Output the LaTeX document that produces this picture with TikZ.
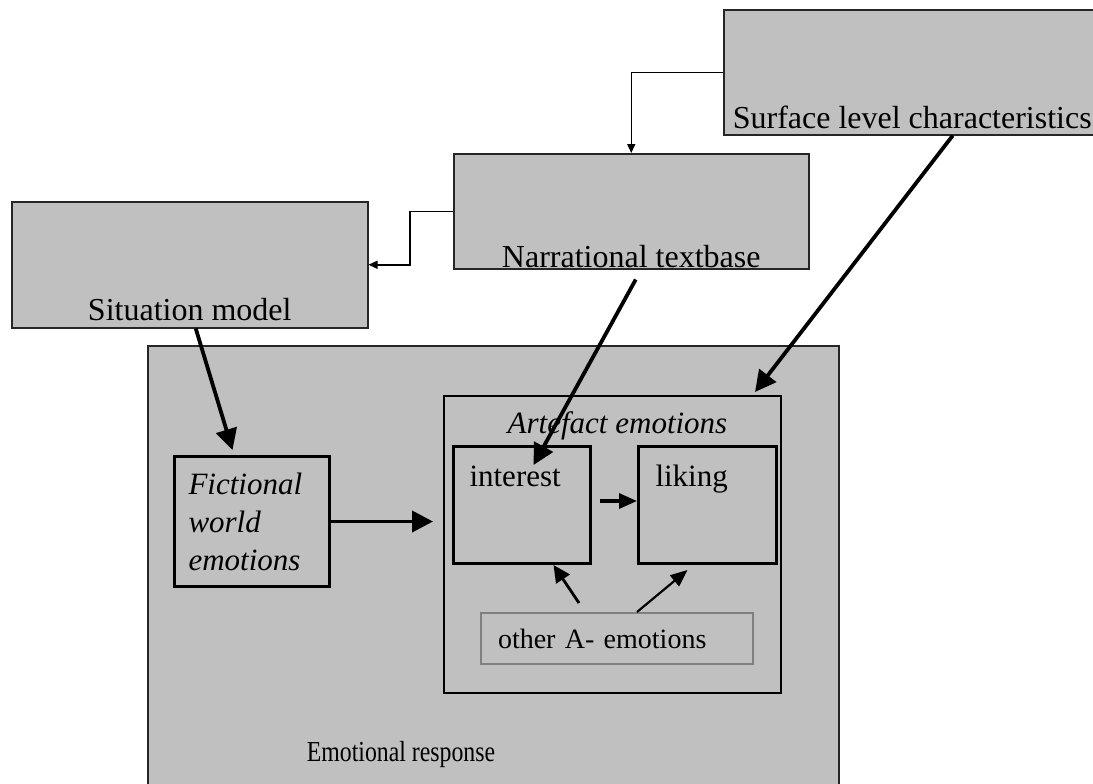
\documentclass[tikz,border=0pt]{standalone}
\usepackage{fontspec}
\setmainfont{Liberation Serif}
\usetikzlibrary{arrows.meta, positioning}
\definecolor{silver}{RGB}{192,192,192}
\definecolor{rimgray}{RGB}{128,128,128}
\def\lvlfont{\fontsize{16}{19}\selectfont}
\tikzstyle{level} = [rectangle, anchor=north west, inner sep=0pt, draw=black!85, line width=0.75pt, fill=silver, font=\lvlfont]
\tikzstyle{emo} = [rectangle, anchor=north west, draw=black, line width=1.5pt, align=left, font=\fontsize{15.5}{19}\selectfont]
\tikzstyle{aro} = [-{Triangle[length=10.5pt,width=10.5pt]}, line width=1.9pt]
\tikzstyle{slim} = [-{Triangle[length=4.5pt,width=4pt]}, line width=0.75pt]

\begin{document}
\begin{tikzpicture}[x=0.5pt, y=-0.5pt]

  \useasboundingbox (0,0) rectangle (1093,783);

  \node (surf) [level, minimum width=188.5pt, minimum height=62.5pt, text height=59.5pt, text depth=3pt] at (723,9) {Surface level characteristics};
  \node (narr) [level, minimum width=177.5pt, minimum height=57.5pt, text height=57pt, text depth=0.5pt] at (453,153) {Narrational textbase};
  \node (sit) [level, minimum width=178pt, minimum height=63pt, text height=59.5pt, text depth=3.5pt] at (11,201) {Situation model};

  \draw [slim] (surf.west) -| (narr.north);
  \draw [slim] (narr.west) -- ++(-43,0) |- (sit.east);

  \node (resp) [level, minimum width=345.5pt, minimum height=230pt] at (147,345) {};
  \node (resptxt) [anchor=base, font=\fontsize{14.5}{17}\selectfont] at (401,761) {\scalebox{0.82}[1]{Emotional response}};

  \node (fict) [emo, inner xsep=7pt, text width=63.5pt, minimum height=65pt, font=\fontsize{15.5}{19}\selectfont\itshape] at (173,455) {Fictional\\world\\emotions};

  \node (art) [emo, line width=1pt, inner sep=0pt, minimum width=168.5pt, text height=18.5pt, text depth=130pt, font=\fontsize{15.5}{19}\selectfont\itshape] at (443,395) {\hspace*{5pt}Artefact emotions};

  \node (int) [emo, inner xsep=8pt, inner ysep=0pt, text width=52.5pt, text height=20pt, text depth=38.5pt] at (452,445) {interest};
  \node (lik) [emo, right=22.5pt of int, inner xsep=8.5pt, inner ysep=0pt, text width=52pt, text height=20pt, text depth=38.5pt] {liking};

  \node (oth) [emo, draw=rimgray, line width=1pt, inner xsep=8.5pt, inner ysep=0pt, text width=119pt, text height=17.5pt, text depth=8pt, font=\fontsize{14}{17}\selectfont] at (480,612) {other A- emotions};

  \draw [aro] ([xshift=3pt]sit.south) -- ([shift={(-9.75pt,2.5pt)}]fict.north);
  \draw [aro, shorten >=5pt] (fict.east) -- (fict.east -| art.west);
  \draw [aro] ([shift={(2.25pt,-5pt)}]narr.south) -- ([shift={(5.75pt,-10pt)}]int.north);
  \draw [aro] ([xshift=20.25pt]surf.south) -- ([shift={(-13.5pt,1.5pt)}]art.north east);

  \draw [aro, -{Triangle[length=9pt,width=7.5pt]}, line width=1.6pt, shorten <=4pt] ([yshift=2pt]int.east) -- ([yshift=2pt]lik.west);
  \draw [aro, -{Triangle[length=8.5pt,width=8pt]}, line width=1.4pt] ([shift={(-19pt,4.5pt)}]oth.north) -- ([xshift=15.75pt]int.south);
  \draw [aro, -{Triangle[length=8.5pt,width=7pt]}, line width=1.1pt] ([xshift=10pt]oth.north) -- ([shift={(-10pt,-2.5pt)}]lik.south);

\end{tikzpicture}
\end{document}
